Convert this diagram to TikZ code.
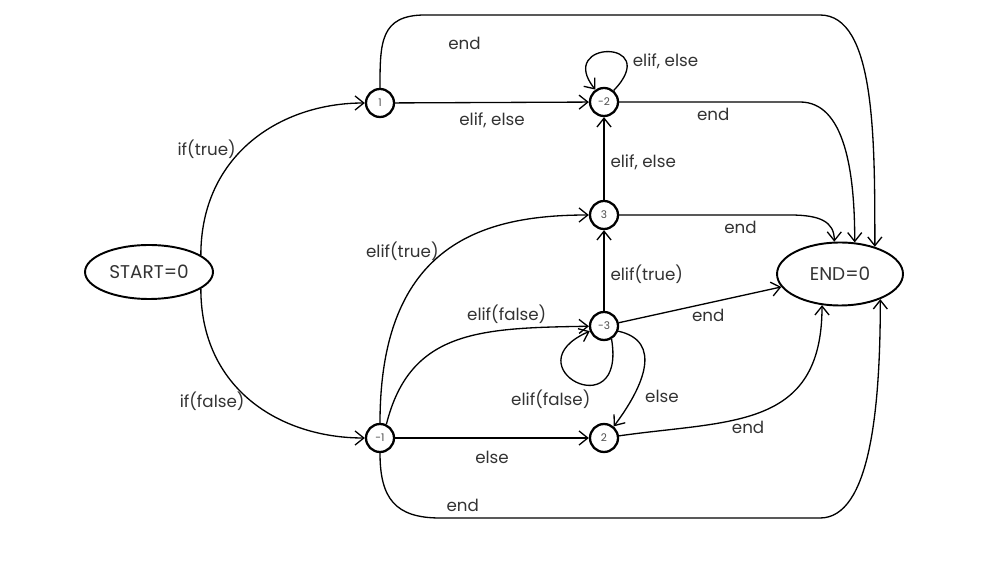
\documentclass[tikz,border=0pt]{standalone}
\usepackage{fontspec}
\setsansfont{Poppins}
\tikzset{every picture/.style={/utils/exec={\sffamily}}}
\usetikzlibrary{arrows.meta}
\usetikzlibrary{shapes.geometric}

\tikzset{
  state/.style={draw, circle, line width=1.3pt, minimum size=0.56cm, inner sep=0pt,
    font=\fontsize{6}{6}\selectfont, text=black!70},
  terminal/.style={draw, ellipse, line width=1.1pt, inner sep=0pt,
    font=\fontsize{10.5}{12}\selectfont, text=black!80},
  trans/.style={-{Straight Barb[length=5pt,width=8pt]}, line width=0.75pt},
  lbl/.style={font=\fontsize{9.5}{11}\selectfont, text=black!80}
}

\begin{document}
\begin{tikzpicture}[x=0.02cm, y=-0.02cm]
  \useasboundingbox (0,0) rectangle (1000,563);

  \node [terminal, minimum width=2.56cm, minimum height=1.08cm] (start) at (149,272) {START=0};
  \node [terminal, minimum width=2.52cm, minimum height=1.26cm] (end) at (840,274) {END=0};

  \node [state] (s1) at (380,103) {1};
  \node [state] (sm2) at (604,102) {-2};
  \node [state] (s3) at (604,215) {3};
  \node [state] (sm3) at (604,326) {-3};
  \node [state] (sm1) at (380,438) {-1};
  \node [state] (s2) at (604,438) {2};

  % from START
  \draw [trans] (start.18) .. controls +(0,-100) and +(-100,0) ..
    node [lbl, pos=0.45, left] {if(true)} (s1);
  \draw [trans] (start.-18) .. controls +(0,100) and +(-100,0) ..
    node [lbl, pos=0.5, left] {if(false)} (sm1);

  % branch 1
  \draw [trans] (s1) -- node [lbl, below=2pt] {elif, else} (sm2);
  \draw [trans] (s1.north) .. controls +(0,-45) and +(-45,0) .. (425,15)
    -- node [lbl, pos=0.1, below=9pt] {end} (820,15)
    .. controls +(55,0) and +(0,-110) .. (end.38);

  % state -2
  \draw [trans] (sm2.50) .. controls +(50,-52) and +(-40,-50) ..
    node [lbl, pos=0.25, right] {elif, else} (sm2.125);
  \draw [trans] (sm2) -- node [lbl, pos=0.52, below] {end} (800,102)
    .. controls +(45,0) and +(0,-70) .. (end.65);

  % state 3
  \draw [trans] (s3) -- node [lbl, pos=0.45, right] {elif, else} (sm2);
  \draw [trans] (s3) -- node [lbl, pos=0.71, below] {end} (790,215)
    .. controls +(30,0) and +(0,-20) .. (end.100);

  % state -3
  \draw [trans] (sm3) -- node [lbl, pos=0.55, below] {end} (end);
  \draw [trans] (sm3) -- node [lbl, pos=0.45, right] {elif(true)} (s3);
  \draw [trans] (sm3.-60) .. controls +(15,90) and +(-80,35) ..
    node [lbl, pos=0.35, below=-1pt, xshift=-24pt] {elif(false)} (sm3.200);
  \draw [trans] (sm3.-20) .. controls +(45,10) and +(30,-40) ..
    node [lbl, pos=0.75, right, xshift=3pt] {else} (s2.50);

  % branch -1
  \draw [trans] (sm1.north) .. controls +(0,-180) and +(-120,0) ..
    node [lbl, pos=0.5, left] {elif(true)} (s3);
  \draw [trans] (sm1.65) .. controls (410,330) and (480,328) ..
    node [lbl, pos=0.72, above] {elif(false)} (sm3);
  \draw [trans] (sm1) -- node [lbl, below=4pt] {else} (s2);
  \draw [trans] (sm1.south) .. controls +(0,45) and +(-45,0) .. (440,518)
    -- node [lbl, pos=0.06, above] {end} (820,518)
    .. controls +(50,0) and +(0,110) .. (end.-32);

  % state 2
  \draw [trans] (s2) .. controls (730,420) and (822,430) ..
    node [lbl, pos=0.35, below right, yshift=4pt] {end} (end.-120);
\end{tikzpicture}
\end{document}
